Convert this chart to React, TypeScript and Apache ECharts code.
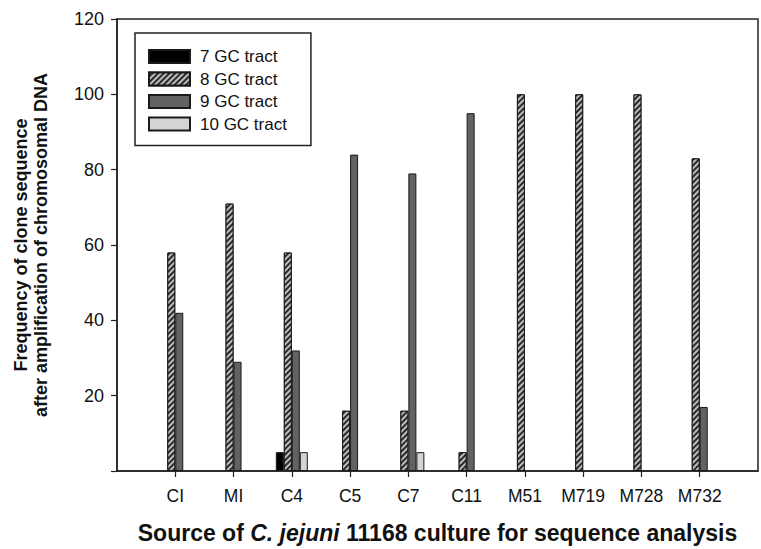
import React, { useEffect, useRef } from "react";
import * as echarts from "echarts";

const categories = ["CI", "MI", "C4", "C5", "C7", "C11", "M51", "M719", "M728", "M732"];
const seriesNames = ["7 GC tract", "8 GC tract", "9 GC tract", "10 GC tract"];
const gc7 = [0, 0, 5, 0, 0, 0, 0, 0, 0, 0];
const gc8 = [58, 71, 58, 16, 16, 5, 100, 100, 100, 83];
const gc9 = [42, 29, 32, 84, 79, 95, 0, 0, 0, 17];
const gc10 = [0, 0, 5, 0, 5, 0, 0, 0, 0, 0];
const yTicks = [0, 20, 40, 60, 80, 100, 120];

const FONT = "'Liberation Sans', Arial, Helvetica, sans-serif";

export default function App() {
  const ref = useRef<HTMLDivElement>(null);
  useEffect(() => {
    if (!ref.current) return;
    const chart = echarts.init(ref.current, undefined, { renderer: "svg" });
    const cats = ["", ...categories, ""];
    const pad = (arr: number[]) => ["-", ...arr.map((v) => (v === 0 ? "-" : v)), "-"];
    const border = { borderColor: "#1a1a1a", borderWidth: 1 };
    const styles: any[] = [
      { color: "#000000", ...border },
      {
        color: "#2a2a2a",
        ...border,
        decal: {
          symbol: "rect",
          symbolSize: 1,
          dashArrayX: [1, 0],
          dashArrayY: [2, 2],
          rotation: -Math.PI / 4,
          color: "#bdbdbd",
        },
      },
      { color: "#626262", ...border },
      { color: "#d4d4d4", ...border },
    ];
    const datas = [gc7, gc8, gc9, gc10];
    chart.setOption({
      animation: false,
      backgroundColor: "#ffffff",
      textStyle: { fontFamily: FONT, color: "#111" },
      grid: {
        left: 117,
        top: 19,
        right: -4,
        bottom: 77,
        show: true,
        borderColor: "#222",
        borderWidth: 1.5,
        containLabel: false,
      },
      legend: {
        orient: "vertical",
        left: 135,
        top: 33,
        data: seriesNames,
        icon: "rect",
        itemWidth: 41,
        itemHeight: 13,
        itemGap: 5.5,
        borderColor: "#222",
        borderWidth: 1.5,
        padding: [15, 24, 13, 13],
        textStyle: { fontFamily: FONT, fontSize: 17, color: "#111", padding: [0, 0, 0, 5] },
      },
      xAxis: {
        type: "category",
        data: cats,
        boundaryGap: false,
        axisLine: { lineStyle: { color: "#222", width: 1.5 } },
        axisTick: {
          length: 6,
          inside: false,
          lineStyle: { color: "#222", width: 1.2 },
          interval: (_i: number, v: string) => v !== "",
        },
        axisLabel: {
          fontFamily: FONT,
          fontSize: 17.5,
          color: "#111",
          margin: 16,
          interval: 0,
        },
        name: "Source of {i|C. jejuni} 11168 culture for sequence analysis",
        nameLocation: "middle",
        nameGap: 50,
        nameTextStyle: {
          fontFamily: FONT,
          fontSize: 23,
          fontWeight: "bold",
          color: "#111",
          rich: {
            i: { fontFamily: FONT, fontSize: 23, fontWeight: "bold", fontStyle: "italic", color: "#111" },
          },
        },
        splitLine: { show: false },
      },
      yAxis: {
        type: "value",
        min: yTicks[0],
        max: yTicks[yTicks.length - 1],
        interval: 20,
        axisLine: { show: true, lineStyle: { color: "#222", width: 1.5 } },
        axisTick: { show: true, length: 6, lineStyle: { color: "#222", width: 1.2 } },
        axisLabel: {
          fontFamily: FONT,
          fontSize: 18,
          color: "#111",
          margin: 13,
          formatter: (v: number) => (v === 0 ? "" : String(v)),
        },
        splitLine: { show: false },
        name: "Frequency of clone sequence\nafter amplification of chromosomal DNA",
        nameLocation: "middle",
        nameGap: 66,
        nameTextStyle: {
          fontFamily: FONT,
          fontSize: 18,
          fontWeight: "bold",
          color: "#111",
          lineHeight: 20,
        },
      },
      series: seriesNames.map((name, k) => ({
        name,
        type: "bar",
        data: pad(datas[k]),
        barWidth: 8,
        barGap: "0%",
        itemStyle: styles[k],
        emphasis: { disabled: true },
      })),
    });
    return () => chart.dispose();
  }, []);
  return (
    <div
      ref={ref}
      style={{ position: "fixed", left: 0, top: 0, width: 761, height: 549, background: "#fff" }}
    />
  );
}
